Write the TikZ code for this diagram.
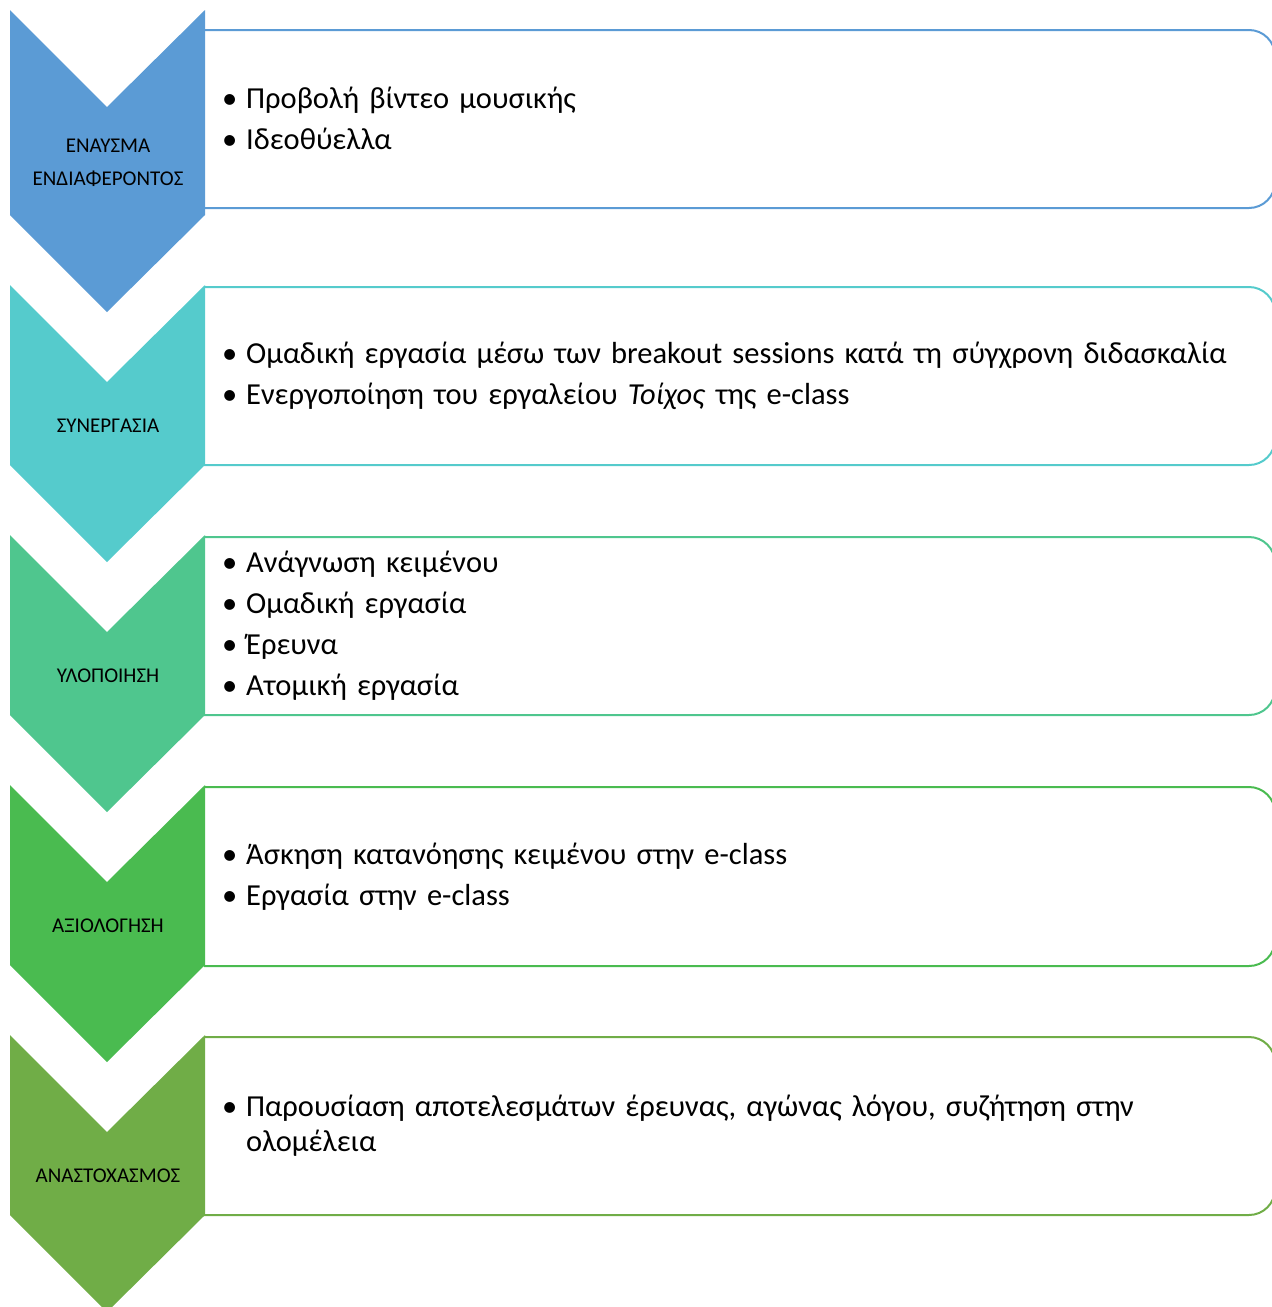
\documentclass[tikz,border=0pt]{standalone}
\usepackage{fontspec}
\setmainfont{Carlito}
\usetikzlibrary{positioning}
\definecolor{stepblue}{HTML}{5B9BD5}
\definecolor{stepteal}{HTML}{55CBCC}
\definecolor{stepsea}{HTML}{4FC68E}
\definecolor{stepgreen}{HTML}{4ABB50}
\definecolor{stepolive}{HTML}{70AD47}
\newcommand{\bitem}[1]{\par\hangindent=24pt\hangafter=1\noindent\makebox[24pt][l]{\textbullet}#1\par}

\begin{document}
\begin{tikzpicture}[x=1pt,y=-1pt,
    chev/.style={fill=#1},
    tbox/.style={draw=#1,line width=2pt,rounded corners=26pt},
    lbl/.style={font=\fontsize{21}{33}\selectfont,align=center,inner sep=0pt},
    txt/.style={font=\fontsize{30.5}{35}\selectfont,text width=1026pt,anchor=west,
      inner sep=0pt,execute at begin node={\raggedright\parskip=6pt}}]
  \useasboundingbox (0,0) rectangle (1272,1307);

  \foreach \T/\B/\bt/\bb/\col/\lbl/\items [count=\i] in {
      10/215/30/208/stepblue/{ΕΝΑΥΣΜΑ\\ΕΝΔΙΑΦΕΡΟΝΤΟΣ}/{\bitem{Προβολή βίντεο μουσικής}\bitem{Ιδεοθύελλα}},
      285/465/287/465/stepteal/{ΣΥΝΕΡΓΑΣΙΑ}/{\bitem{Ομαδική εργασία μέσω των breakout sessions κατά τη σύγχρονη διδασκαλία}\bitem{Ενεργοποίηση του εργαλείου \textit{Τοίχος} της e-class}},
      535/715/537/715/stepsea/{ΥΛΟΠΟΙΗΣΗ}/{\bitem{Ανάγνωση κειμένου}\bitem{Ομαδική εργασία}\bitem{Έρευνα}\bitem{Ατομική εργασία}},
      785/965/787/966/stepgreen/{ΑΞΙΟΛΟΓΗΣΗ}/{\bitem{Άσκηση κατανόησης κειμένου στην e-class}\bitem{Εργασία στην e-class}},
      1035/1215/1037/1215/stepolive/{ΑΝΑΣΤΟΧΑΣΜΟΣ}/{\bitem{Παρουσίαση αποτελεσμάτων έρευνας, αγώνας λόγου, συζήτηση στην ολομέλεια}}} {
    \draw[tbox=\col] (204,\bt) -- (1275,\bt) -- (1275,\bb) -- (204,\bb);
    \fill[chev=\col] (10,\T) -- (107,\T+97) -- (205,\T) -- (205,\B)
      -- (107,\B+97) -- (10,\B) -- cycle;
    \node[lbl] (lbl\i) at (108,{(\T+97+\B)/2+2}) {\lbl};
    \node[txt] (txt\i) at (222,{(\bt+\bb)/2-10}) {\items};
  }
\end{tikzpicture}
\end{document}
